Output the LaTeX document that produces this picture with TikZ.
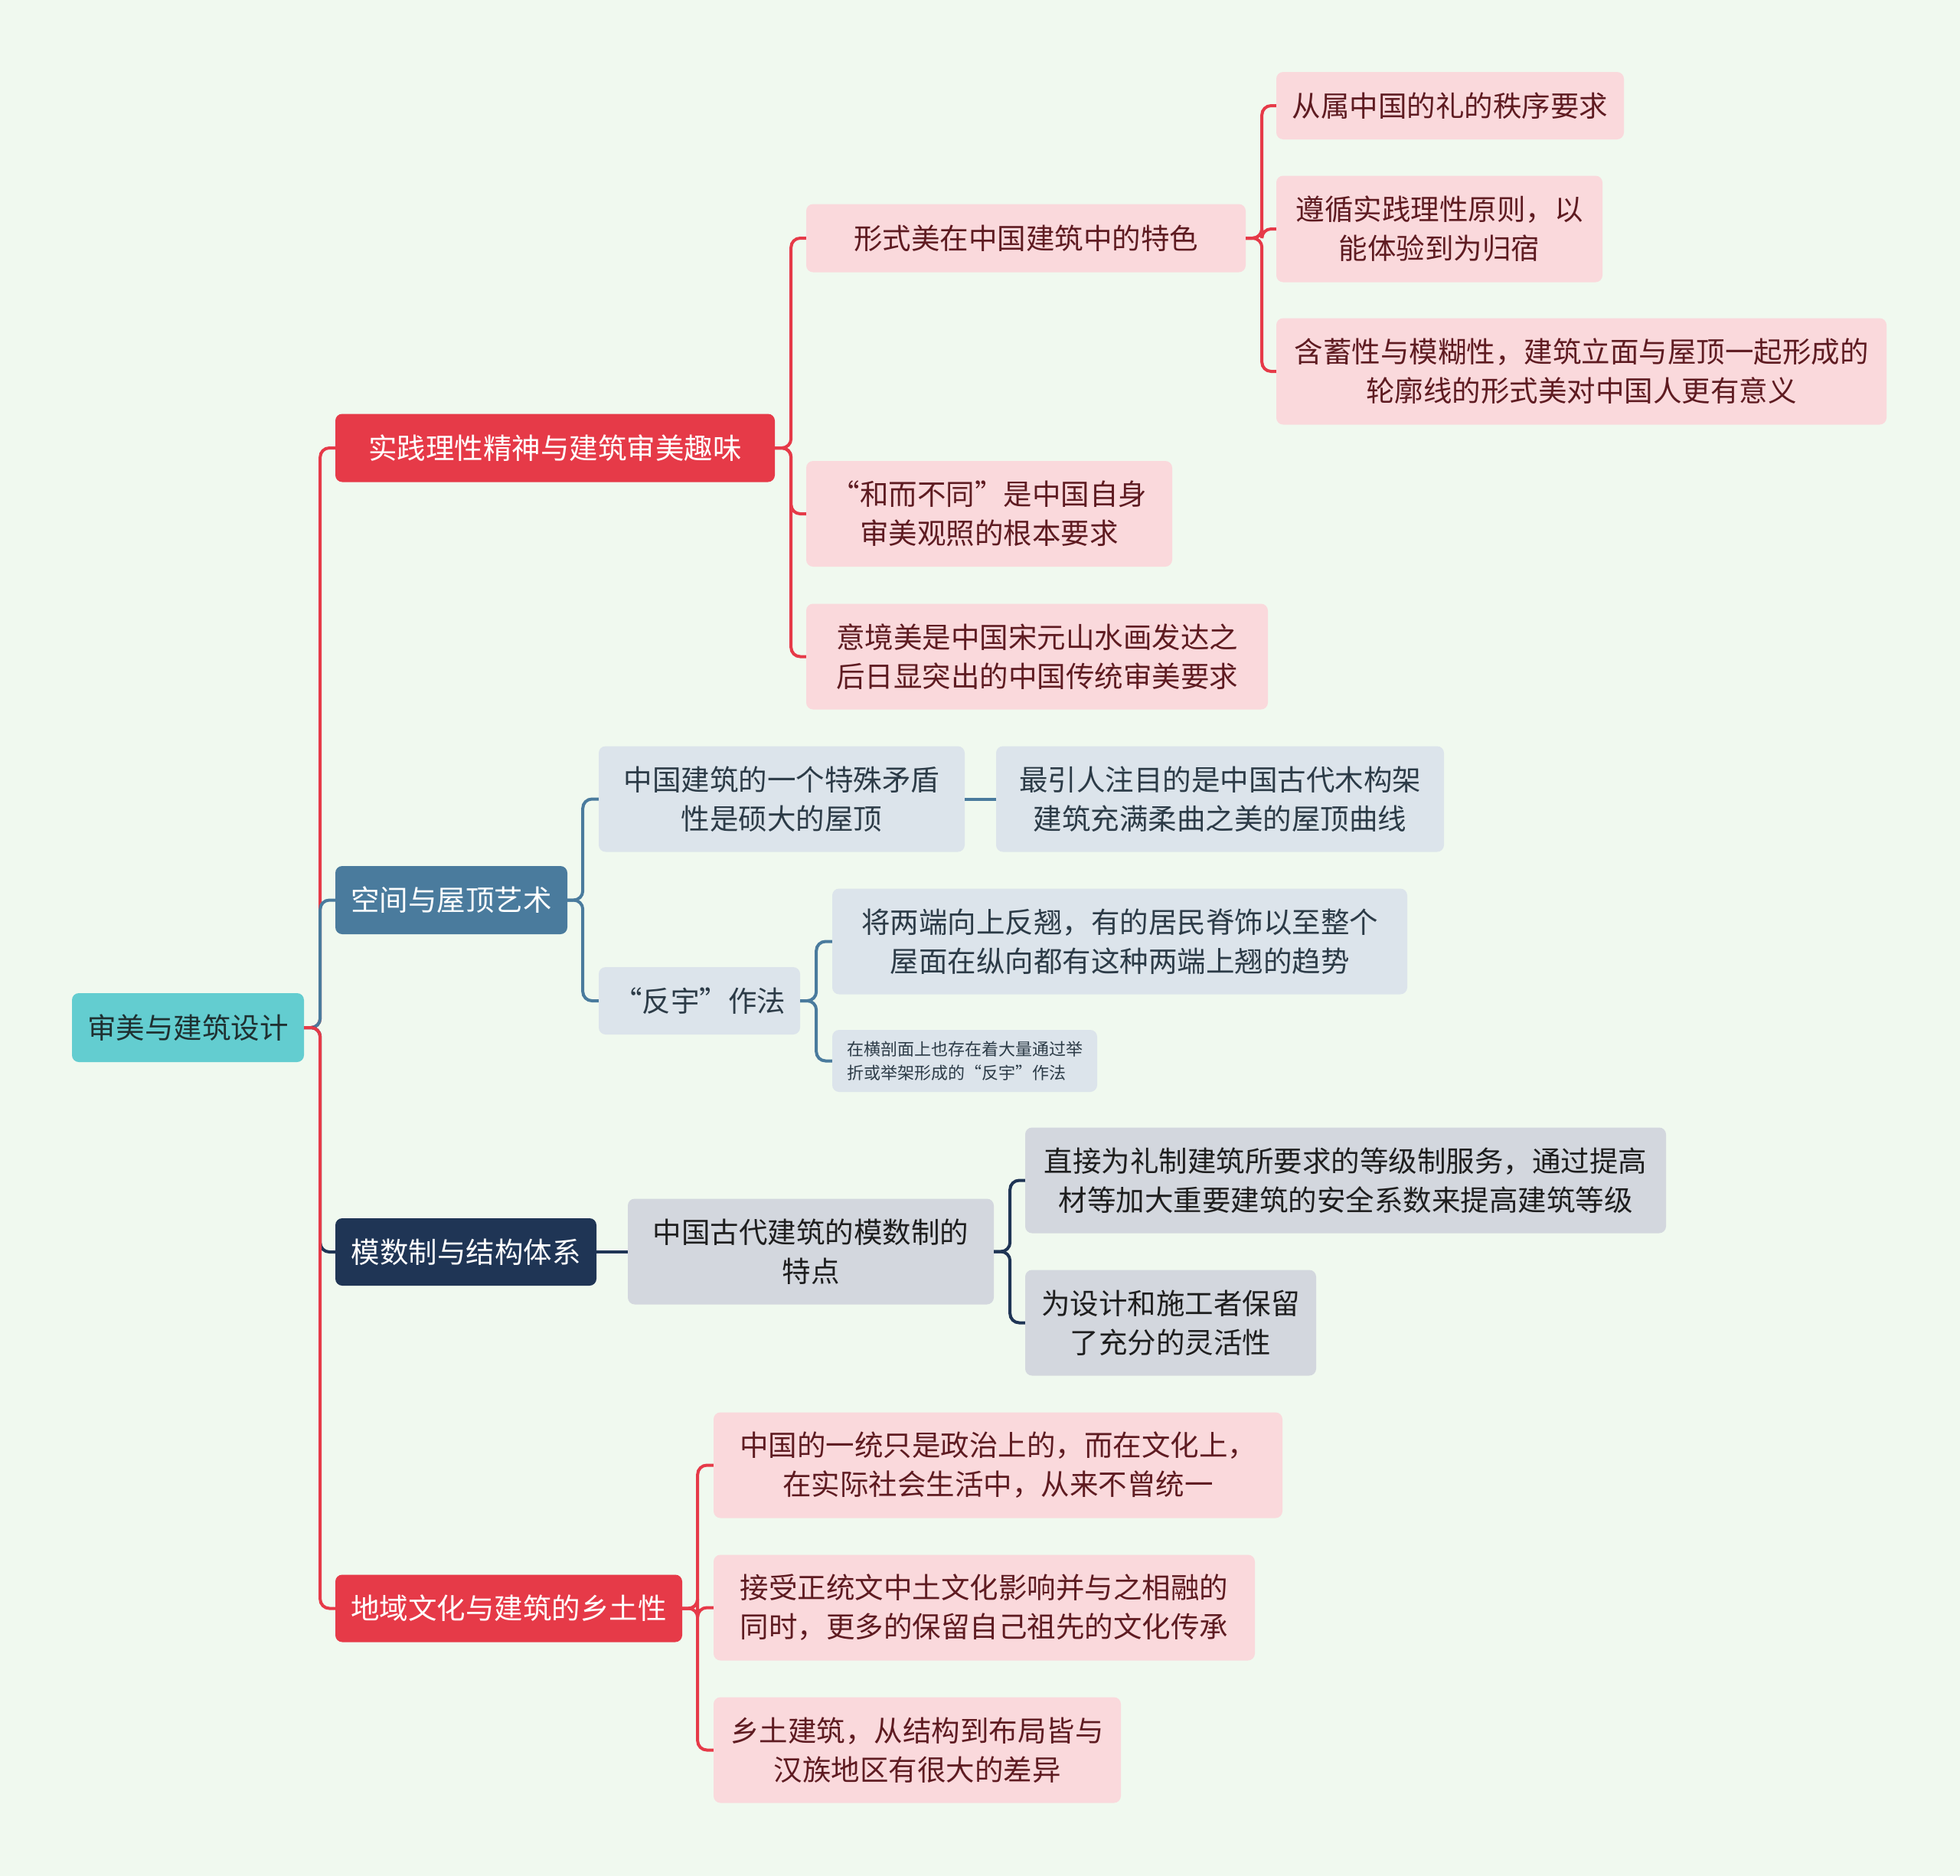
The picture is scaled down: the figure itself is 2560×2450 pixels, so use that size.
\documentclass[tikz,border=0pt]{standalone}
\usepackage{fontspec}
\setmainfont{Noto Sans CJK SC}
\definecolor{bg}{HTML}{F0F9EF}
\definecolor{cRed}{HTML}{E63A48}
\definecolor{cPink}{HTML}{FAD9DC}
\definecolor{cPinkTxt}{HTML}{5E1B21}
\definecolor{cBlue}{HTML}{4A7B9D}
\definecolor{cLBlue}{HTML}{DCE4EB}
\definecolor{cBlueTxt}{HTML}{2C3B47}
\definecolor{cNavy}{HTML}{1F3555}
\definecolor{cGray}{HTML}{D3D7DE}
\definecolor{cGrayTxt}{HTML}{1E1E1E}
\definecolor{cTeal}{HTML}{63CDD0}
\definecolor{cTealTxt}{HTML}{1F3031}
\tikzset{
  box/.style={rounded corners=9pt, inner sep=0pt, align=center,
    font=\fontsize{37.5}{51}\selectfont},
  rootbox/.style={box, fill=cTeal, text=cTealTxt},
  redbox/.style={box, fill=cRed, text=white},
  bluebox/.style={box, fill=cBlue, text=white},
  navybox/.style={box, fill=cNavy, text=white},
  pinkbox/.style={box, fill=cPink, text=cPinkTxt},
  lbluebox/.style={box, fill=cLBlue, text=cBlueTxt},
  graybox/.style={box, fill=cGray, text=cGrayTxt},
  smallbox/.style={rounded corners=9pt, inner sep=0pt, align=left, fill=cLBlue, text=cBlueTxt,
    font=\fontsize{22}{30.5}\selectfont},
  cred/.style={draw=cRed, line width=4pt, rounded corners=12pt},
  cblue/.style={draw=cBlue, line width=4pt, rounded corners=12pt},
  cnavy/.style={draw=cNavy, line width=4pt, rounded corners=12pt},
}
\begin{document}
\begin{tikzpicture}[x=1pt, y=-1pt]
\path[use as bounding box, fill=bg] (0,0) rectangle (2560,2450);

% root
\node[rootbox, minimum width=303pt, minimum height=90pt] (root) at (245.5,1342) {审美与建筑设计};

% level 1
\node[redbox, minimum width=574pt, minimum height=89pt] (a) at (725,585) {实践理性精神与建筑审美趣味};
\node[bluebox, minimum width=303pt, minimum height=89pt] (b) at (589.5,1175.5) {空间与屋顶艺术};
\node[navybox, minimum width=341pt, minimum height=88pt] (c) at (608.5,1635) {模数制与结构体系};
\node[redbox, minimum width=453pt, minimum height=88pt] (d) at (664.5,2100.5) {地域文化与建筑的乡土性};

% group a
\node[pinkbox, minimum width=574pt, minimum height=89pt] (a1) at (1340,311) {形式美在中国建筑中的特色};
\node[pinkbox, minimum width=478pt, minimum height=138pt] (a2) at (1292,671) {“和而不同”是中国自身\\审美观照的根本要求};
\node[pinkbox, minimum width=603pt, minimum height=138pt] (a3) at (1354.5,857.5) {意境美是中国宋元山水画发达之\\后日显突出的中国传统审美要求};
\node[pinkbox, minimum width=454pt, minimum height=88pt] (a11) at (1894,138) {从属中国的礼的秩序要求};
\node[pinkbox, minimum width=426pt, minimum height=139pt] (a12) at (1880,299) {遵循实践理性原则，以\\能体验到为归宿};
\node[pinkbox, minimum width=797pt, minimum height=139pt] (a13) at (2065.5,485) {含蓄性与模糊性，建筑立面与屋顶一起形成的\\轮廓线的形式美对中国人更有意义};

% group b
\node[lbluebox, minimum width=478pt, minimum height=138pt] (b1) at (1021,1043.5) {中国建筑的一个特殊矛盾\\性是硕大的屋顶};
\node[lbluebox, minimum width=585pt, minimum height=138pt] (b11) at (1593.5,1043.5) {最引人注目的是中国古代木构架\\建筑充满柔曲之美的屋顶曲线};
\node[lbluebox, minimum width=263pt, minimum height=88pt] (b2) at (913.5,1307) {“反宇”作法};
\node[lbluebox, minimum width=751pt, minimum height=138pt] (b21) at (1462.5,1229.5) {将两端向上反翘，有的居民脊饰以至整个\\屋面在纵向都有这种两端上翘的趋势};
\node[smallbox, minimum width=346pt, minimum height=81pt] (b22) at (1260,1385.5) {在横剖面上也存在着大量通过举\\折或举架形成的“反宇”作法};

% group c
\node[graybox, minimum width=478pt, minimum height=138pt] (c1) at (1059,1634.5) {中国古代建筑的模数制的\\特点};
\node[graybox, minimum width=837pt, minimum height=138pt] (c11) at (1757.5,1541.5) {直接为礼制建筑所要求的等级制服务，通过提高\\材等加大重要建筑的安全系数来提高建筑等级};
\node[graybox, minimum width=380pt, minimum height=138pt] (c12) at (1529,1727.5) {为设计和施工者保留\\了充分的灵活性};

% group d
\node[pinkbox, minimum width=743pt, minimum height=138pt] (d1) at (1303.5,1913.5) {中国的一统只是政治上的，而在文化上，\\在实际社会生活中，从来不曾统一};
\node[pinkbox, minimum width=707pt, minimum height=138pt] (d2) at (1285.5,2099.5) {接受正统文中土文化影响并与之相融的\\同时，更多的保留自己祖先的文化传承};
\node[pinkbox, minimum width=532pt, minimum height=138pt] (d3) at (1198,2285.5) {乡土建筑，从结构到布局皆与\\汉族地区有很大的差异};

% connectors: root to level 1
\draw[cred] (root.east) -- ++(21,0) |- (a.west);
\draw[cblue] (root.east) -- ++(21,0) |- (b.west);
\draw[cnavy] (root.east) -- ++(21,0) |- (c.west);
\draw[cred] (root.east) -- ++(21,0) |- (d.west);

% group a
\draw[cred] (a.east) -- ++(21,0) |- (a1.west);
\draw[cred] (a.east) -- ++(21,0) |- (a2.west);
\draw[cred] (a.east) -- ++(21,0) |- (a3.west);
\draw[cred] (a1.east) -- ++(21,0) |- (a11.west);
\draw[cred] (a1.east) -- ++(21,0) |- (a12.west);
\draw[cred] (a1.east) -- ++(21,0) |- (a13.west);

% group b
\draw[cblue] (b.east) -- ++(20,0) |- (b1.west);
\draw[cblue] (b.east) -- ++(20,0) |- (b2.west);
\draw[cblue] (b1.east) -- (b11.west);
\draw[cblue] (b2.east) -- ++(21,0) |- (b21.west);
\draw[cblue] (b2.east) -- ++(21,0) |- (b22.west);

% group c
\draw[cnavy] (c.east) -- (c.east -| c1.west);
\draw[cnavy] (c1.east) -- ++(21,0) |- (c11.west);
\draw[cnavy] (c1.east) -- ++(21,0) |- (c12.west);

% group d
\draw[cred] (d.east) -- ++(20,0) |- (d1.west);
\draw[cred] (d.east) -- ++(20,0) |- (d2.west);
\draw[cred] (d.east) -- ++(20,0) |- (d3.west);
\end{tikzpicture}
\end{document}
